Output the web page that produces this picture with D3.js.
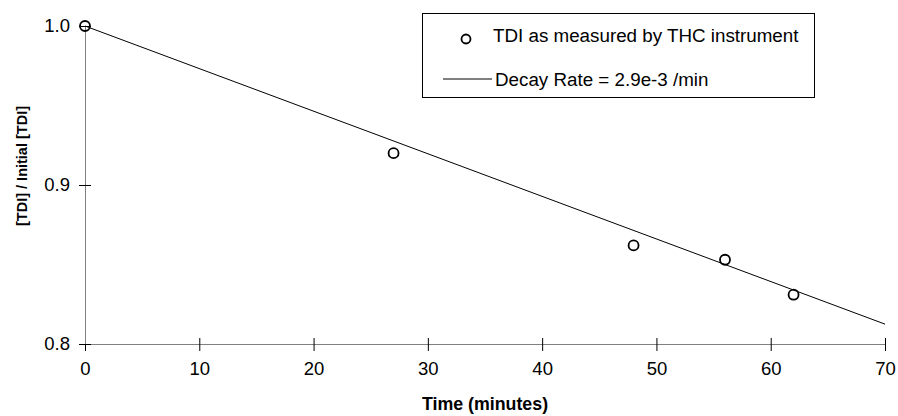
<!DOCTYPE html>
<html>
<head>
<meta charset="utf-8">
<script src="https://cdn.jsdelivr.net/npm/d3@7"></script>
<style>
  body { margin: 0; background: #fff; }
  svg { font-family: "Liberation Sans", Arial, sans-serif; }
</style>
</head>
<body>
<script>
var width = 898;
var height = 416;

// measured points
var timeMin = [0, 27, 48, 56, 62];
var tdiRatio = [1.0, 0.920, 0.862, 0.853, 0.831];

// fitted decay line, end points
var fitTime = [0, 70];
var fitRatio = [1.0, 0.8125];

var xTicks = [0, 10, 20, 30, 40, 50, 60, 70];
var yTicks = [0.8, 0.9, 1.0];

var legendLabels = ["TDI as measured by THC instrument", "Decay Rate = 2.9e-3 /min"];

var svg = d3.select("body")
            .append("svg")
            .attr("width", width)
            .attr("height", height);

var x = d3.scaleLinear().domain([0, 70]).range([85, 885]);
var y = d3.scaleLinear().domain([0.8, 1.0]).range([344, 26]);

// x axis
var xAxis = svg.append("g")
   .attr("transform", "translate(0," + y(0.8) + ")")
   .call(d3.axisBottom(x).tickValues(xTicks).tickSizeOuter(0).tickSizeInner(-6).tickPadding(18));
xAxis.select(".domain").attr("stroke", "#808080");
xAxis.selectAll(".tick line").attr("y1", 7).attr("stroke", "#000");
xAxis.selectAll(".tick text")
     .attr("font-size", "18.5px")
     .attr("font-family", "Liberation Sans, Arial, sans-serif")
     .attr("fill", "#000");

// y axis
var yAxis = svg.append("g")
   .attr("transform", "translate(" + x(0) + ",0)")
   .call(d3.axisLeft(y).tickValues(yTicks).tickFormat(d3.format(".1f")).tickSizeOuter(0).tickSizeInner(6).tickPadding(9));
yAxis.select(".domain").attr("stroke", "#808080");
yAxis.selectAll(".tick line").attr("x1", 6).attr("stroke", "#000");
yAxis.selectAll(".tick text")
     .attr("font-size", "18.5px")
     .attr("font-family", "Liberation Sans, Arial, sans-serif")
     .attr("fill", "#000");

// fit line
var line = d3.line()
   .x(function(d, i) { return x(fitTime[i]); })
   .y(function(d) { return y(d); });

svg.append("path")
   .datum(fitRatio)
   .attr("d", line)
   .attr("fill", "none")
   .attr("stroke", "#000")
   .attr("stroke-width", 1);

// measured points
svg.selectAll("circle.pt")
   .data(tdiRatio)
   .enter()
   .append("circle")
   .attr("class", "pt")
   .attr("cx", function(d, i) { return x(timeMin[i]); })
   .attr("cy", function(d) { return y(d); })
   .attr("r", 5)
   .attr("fill", "none")
   .attr("stroke", "#000")
   .attr("stroke-width", 1.8);

// axis titles
svg.append("text")
   .attr("x", (x(0) + x(70)) / 2)
   .attr("y", 410)
   .attr("text-anchor", "middle")
   .attr("font-weight", "bold")
   .attr("font-size", "17.8px")
   .text("Time (minutes)");

svg.append("text")
   .attr("transform", "translate(27,166) rotate(-90)")
   .attr("text-anchor", "middle")
   .attr("font-weight", "bold")
   .attr("font-size", "14.5px")
   .text("[TDI] / Initial [TDI]");

// legend
var legend = svg.append("g");
legend.append("rect")
      .attr("x", 422.5)
      .attr("y", 13.5)
      .attr("width", 392)
      .attr("height", 84)
      .attr("fill", "#fff")
      .attr("stroke", "#000")
      .attr("stroke-width", 1);

legend.append("circle")
      .attr("cx", 466)
      .attr("cy", 39)
      .attr("r", 4.5)
      .attr("fill", "none")
      .attr("stroke", "#000")
      .attr("stroke-width", 1.8);

legend.append("line")
      .attr("x1", 443)
      .attr("x2", 492)
      .attr("y1", 79)
      .attr("y2", 79)
      .attr("stroke", "#000");

legend.selectAll("text")
      .data(legendLabels)
      .enter()
      .append("text")
      .attr("x", function(d, i) { return i == 0 ? 493 : 495; })
      .attr("y", function(d, i) { return i == 0 ? 41.7 : 85.7; })
      .attr("font-size", "18.8px")
      .text(function(d) { return d; });
</script>
</body>
</html>
